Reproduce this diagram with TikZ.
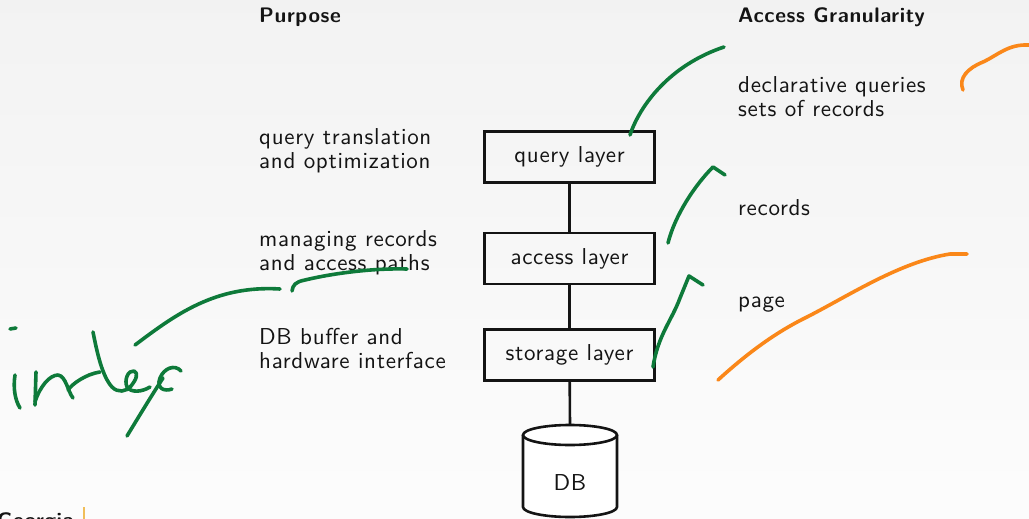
\documentclass[tikz,border=0pt]{standalone}
\usepackage{fontspec}
\definecolor{ink}{RGB}{20,20,20}
\definecolor{pengreen}{RGB}{14,122,58}
\definecolor{penorange}{RGB}{250,135,25}
\definecolor{gold}{RGB}{240,190,90}
\newfontfamily\slidesans{lmsans10-regular.otf}[BoldFont=lmsans10-bold.otf, LetterSpace=3]
\newcommand{\slidefont}{\slidesans\fontsize{23}{24}\selectfont}
\newcommand{\slidebold}[1]{\slidesans\bfseries\fontsize{#1}{#1}\selectfont}
\begin{document}
\begin{tikzpicture}[x=1pt,y=-1pt,
  txt/.style={anchor=west, align=left, inner sep=0pt, text=ink, font=\slidefont},
  head/.style={anchor=west, inner sep=0pt, text=ink, font=\slidebold{21}},
  layerbox/.style={draw=ink, line width=2.6pt, minimum width=170pt,
    minimum height=51pt, inner sep=0pt, text=ink, font=\slidefont},
  link/.style={draw=ink, line width=2.6pt},
  greenpen/.style={draw=pengreen, line width=3.6pt, line cap=round, line join=round},
  orangepen/.style={draw=penorange, line width=3.6pt, line cap=round, line join=round}]

% slide background
\useasboundingbox (0,0) rectangle (1029,519);
\shade[top color=black!5, bottom color=black!1] (0,0) rectangle (1029,519);
\clip (0,0) rectangle (1029,519);

% column headings
\node[head] (hpurpose) at (259,17) {Purpose};
\node[head] (hgran) at (738,17) {Access Granularity};

% purposes of the layers
\node[txt] (pq) at (259,151) {query translation\\and optimization};
\node[txt] (pa) at (259,253) {managing records\\and access paths};
\node[txt] (ps) at (259,349) {DB buffer and\\hardware interface};

% granularities
\node[txt] (gq) at (738,97) {declarative queries\\sets of records};
\node[txt] (ga) at (738,208) {records};
\node[txt] (gs) at (738,305) {page};

% layer stack
\node[layerbox] (query) at (569.5,157) {query layer};
\node[layerbox] (access) at (569.5,258.5) {access layer};
\node[layerbox] (storage) at (569.5,355) {storage layer};

% database cylinder (outline first, label node on top)
\fill[white] (523,435) -- (523,507)
  arc[start angle=180, end angle=360, x radius=47pt, y radius=10pt]
  -- (617,435) -- cycle;
\draw[link] (523,435) -- (523,507)
  arc[start angle=180, end angle=360, x radius=47pt, y radius=10pt]
  -- (617,435);
\draw[link, fill=white] (570,435) ellipse[x radius=47pt, y radius=10pt];
\node[minimum width=94pt, minimum height=92pt, inner sep=0pt, text=ink,
  text height=38pt, text depth=0pt, font=\slidefont] (db) at (570,471) {DB};

\draw[link] (query) -- (access);
\draw[link] (access) -- (storage);
\draw[link] (storage) -- (db.north);

% green pen annotations
\draw[greenpen] (630,135) .. controls (640,105) and (670,65) .. (724,47);
\draw[greenpen] (668,243) .. controls (675,215) and (695,185) .. (713,167) -- (725,175);
\draw[greenpen] (653,367) .. controls (658,335) and (672,320) .. (680,298) -- (689,276) -- (703,285);
\draw[greenpen] (135,345) .. controls (175,315) and (215,285) .. (280,289);
\draw[greenpen] (292,291) .. controls (293,285) and (295,282) .. (305,280)
  .. controls (330,274) and (370,268) .. (407,269);

% handwritten "index"
\draw[greenpen] (10,329) -- (16,328);
\draw[greenpen] (15,375) .. controls (13,388) and (15,400) .. (20,408);
\draw[greenpen] (36,372) -- (35,405);
\draw[greenpen] (35,402) .. controls (40,386) and (50,375) .. (58,375)
  .. controls (66,376) and (68,392) .. (73,398);
\draw[greenpen] (68,390) .. controls (72,384) and (86,374) .. (100,372);
\draw[greenpen] (93,332) .. controls (97,352) and (102,376) .. (112,387)
  .. controls (118,393) and (126,392) .. (131,386)
  .. controls (136,380) and (139,373) .. (134,371)
  .. controls (128,370) and (124,380) .. (127,387)
  .. controls (131,393) and (142,392) .. (150,387);
\draw[greenpen] (181,371) .. controls (175,364) and (164,368) .. (160,378)
  .. controls (156,388) and (164,392) .. (172,389);
\draw[greenpen] (163,378) .. controls (150,398) and (138,418) .. (127,436);

% orange pen annotations
\draw[orangepen] (963,90) .. controls (958,78) and (968,68) .. (983,62)
  .. controls (998,55) and (1008,44) .. (1029,45);
\draw[orangepen] (718,380) .. controls (740,360) and (770,335) .. (807,317)
  .. controls (850,295) and (900,262) .. (950,254) -- (967,254);

% footer logo
\node[anchor=north west, inner sep=0pt, text=ink, font=\slidebold{21}] (logo) at (-3,512) {Georgia};
\draw[gold, line width=1.5pt] (84,507) -- (84,519);
\end{tikzpicture}
\end{document}
